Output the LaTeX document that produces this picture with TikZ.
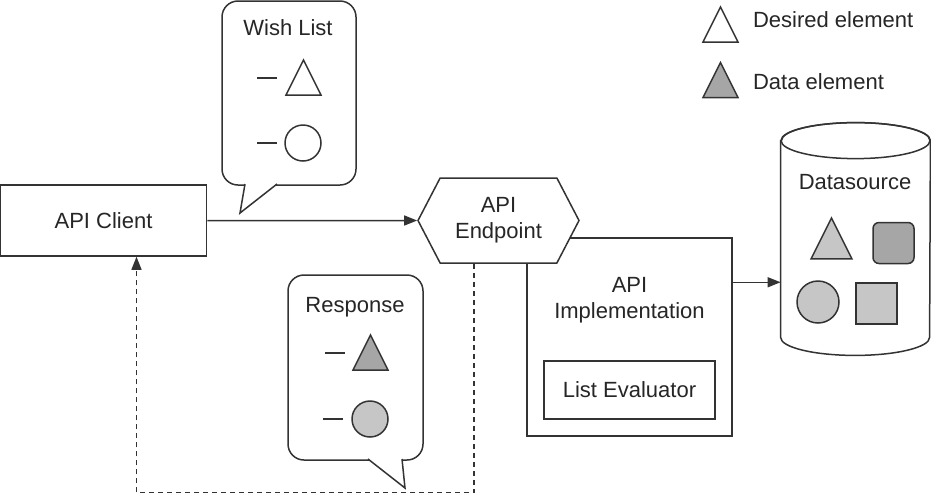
\documentclass[tikz,border=0pt]{standalone}
\usepackage{fontspec}
\setmainfont{Liberation Sans}
\usetikzlibrary{arrows.meta,shapes.symbols,calc}

\definecolor{linegray}{HTML}{333333}
\definecolor{darkfill}{HTML}{A6A6A6}
\definecolor{lightfill}{HTML}{C6C6C6}

\begin{document}
\begin{tikzpicture}[
    x=0.5pt, y=-0.5pt,
    >={Triangle[length=6.5pt,width=5pt]},
    every node/.style={font=\fontsize{11}{13}\selectfont, text=black!85},
    line/.style={draw=linegray, line width=0.75pt},
    box/.style={line, fill=white, inner sep=0pt},
    bubble/.style={line, fill=white, rounded corners=8pt,
                   minimum width=67pt, minimum height=92pt},
    shp/.style={line, circle, inner sep=0pt, minimum size=18pt},
    ret/.style={line, line width=0.6pt, dash pattern=on 2.5pt off 2pt},
    tri/.pic={\draw[line, pic actions] (0,-17.5) -- (17.5,17.5) -- (-17.5,17.5) -- cycle;}
]
    \useasboundingbox (0,0) rectangle (931,495);

    \node[box, minimum width=103pt, minimum height=35.5pt] (client) at (103.5,220.5) {API Client};
    \node[box, minimum width=102.5pt, minimum height=99pt] (impl) at (629.5,337) {};
    \node[align=center] (impltext) at (629.5,300) {API\\Implementation};
    \node[box, minimum width=85.5pt, minimum height=29pt] (eval) at (629.5,390) {List Evaluator};
    \node[line, fill=white, signal, signal to=east and west, signal pointer angle=125,
          minimum width=80.5pt, minimum height=42.5pt, inner sep=0pt, align=center]
          (ep) at (498.5,220.5) {API\\Endpoint};

    % datasource
    \node[inner sep=0pt, minimum width=74.5pt, minimum height=98pt] (ds) at (855.5,239) {};
    \draw[line, fill=white] (ds.north west) -- (ds.south west)
        arc[start angle=180, end angle=360, x radius=37.25pt, y radius=9pt]
        -- (ds.north east)
        arc[start angle=0, end angle=180, x radius=37.25pt, y radius=9pt] -- cycle;
    \draw[line] (ds.north) ellipse[x radius=37.25pt, y radius=9pt];
    \node (dstext) at (855,182) {Datasource};
    \pic[fill=lightfill, scale=1.17] at (831.5,238.5) {tri};
    \node[line, fill=darkfill, rounded corners=3pt, minimum size=20.5pt, inner sep=0pt] (rsq) at (893.5,243) {};
    \node[shp, fill=lightfill, minimum size=21pt] (dcirc) at (818,302) {};
    \node[line, fill=lightfill, minimum size=20.5pt, inner sep=0pt] (sq) at (876.5,303.5) {};

    % wish list
    \node[bubble] (wish) at (289,93) {};
    \draw[line, fill=white] (245,184) -- (240,213) -- (277,184);
    \node (wishtext) at (288,28) {Wish List};
    \draw[line] (257,78) -- (277,78);
    \pic[fill=white] at (303.5,77.5) {tri};
    \draw[line] (257,143) -- (277,143);
    \node[shp] (wcirc) at (303,143) {};

    % response
    \node[bubble, minimum width=67.5pt, minimum height=92.5pt] (resp) at (355.5,367.5) {};
    \draw[line, fill=white] (368,459) -- (405,488) -- (402,459);
    \node (resptext) at (355,307) {Response};
    \draw[line] (325,353) -- (345,353);
    \pic[fill=darkfill] at (370.5,352.5) {tri};
    \draw[line] (323,419) -- (343,419);
    \node[shp, fill=lightfill] (rcirc) at (370,419) {};

    % legend
    \pic[fill=white] at (720.5,24.5) {tri};
    \node[anchor=west] (lgdesired) at (746,20) {Desired element};
    \pic[fill=darkfill] at (720.5,80) {tri};
    \node[anchor=west] (lgdata) at (746,82) {Data element};

    \draw[line, ->] (client) -- (ep);
    \draw[line, ->] ([yshift=-22.5pt]impl.north east) coordinate (implout) -- (implout -| ds.west);
    \draw[ret, ->] ([xshift=-12.25pt]ep.south) -- ++(0,229) -| ([xshift=16.5pt]client.south);
\end{tikzpicture}
\end{document}
